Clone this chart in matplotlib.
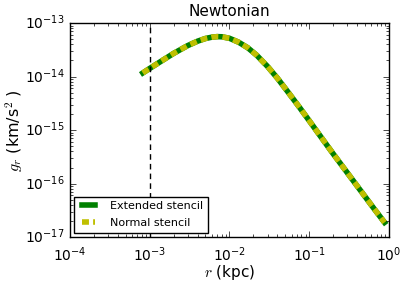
import numpy as np
import matplotlib
matplotlib.use('Agg')
import matplotlib.pyplot as plt

plt.style.use('classic')
plt.rcParams['axes.unicode_minus'] = False

# radius (kpc) and radial acceleration (km/s^2)
r = [8.2e-4, 1.0e-3, 1.5e-3, 2.0e-3, 3.0e-3, 4.0e-3, 5.0e-3, 6.0e-3,
     7.0e-3, 8.0e-3, 1.0e-2, 1.3e-2, 1.7e-2, 2.2e-2, 3.0e-2, 4.0e-2,
     5.5e-2, 7.5e-2, 0.1, 0.15, 0.2, 0.3, 0.45, 0.65, 0.88]
g_ext = [1.17e-14, 1.42e-14, 2.08e-14, 2.72e-14, 3.8e-14, 4.6e-14, 5.15e-14, 5.45e-14,
         5.58e-14, 5.55e-14, 5.2e-14, 4.4e-14, 3.45e-14, 2.5e-14, 1.55e-14, 9.3e-15,
         5.0e-15, 2.7e-15, 1.5e-15, 6.5e-16, 3.6e-16, 1.6e-16, 7.1e-17, 3.4e-17, 1.88e-17]
g_norm = list(g_ext)

r_min = 1e-3  # dashed marker

fig = plt.figure(figsize=(4.09, 2.85), dpi=100)
ax = fig.add_axes([0.171, 0.168, 0.780, 0.751])

ax.plot(r, g_ext, color='g', lw=4, ls='-', label='Extended stencil')
ax.plot(r, g_norm, color='y', lw=4, ls='--', dashes=(5, 3), label='Normal stencil')
ax.axvline(r_min, color='k', ls='--', dashes=(4, 3), lw=1)

ax.set_xscale('log')
ax.set_yscale('log')
ax.set_xlim(1e-4, 1)
ax.set_ylim(1e-17, 1e-13)
ax.tick_params(labelsize=10)
ax.tick_params(axis='x', pad=6)

ax.set_title('Newtonian', fontsize=11)
ax.set_xlabel('$r$ (kpc)', fontsize=11, labelpad=-1)
ax.set_ylabel('$g_r$ (km/s$^2$ )', fontsize=11.5, labelpad=0)

leg = ax.legend(loc='lower left', fontsize=8, handlelength=1.8, handletextpad=1.0,
                borderpad=0.4, labelspacing=0.65, borderaxespad=0.4)

fig.savefig('out.png', dpi=100)
